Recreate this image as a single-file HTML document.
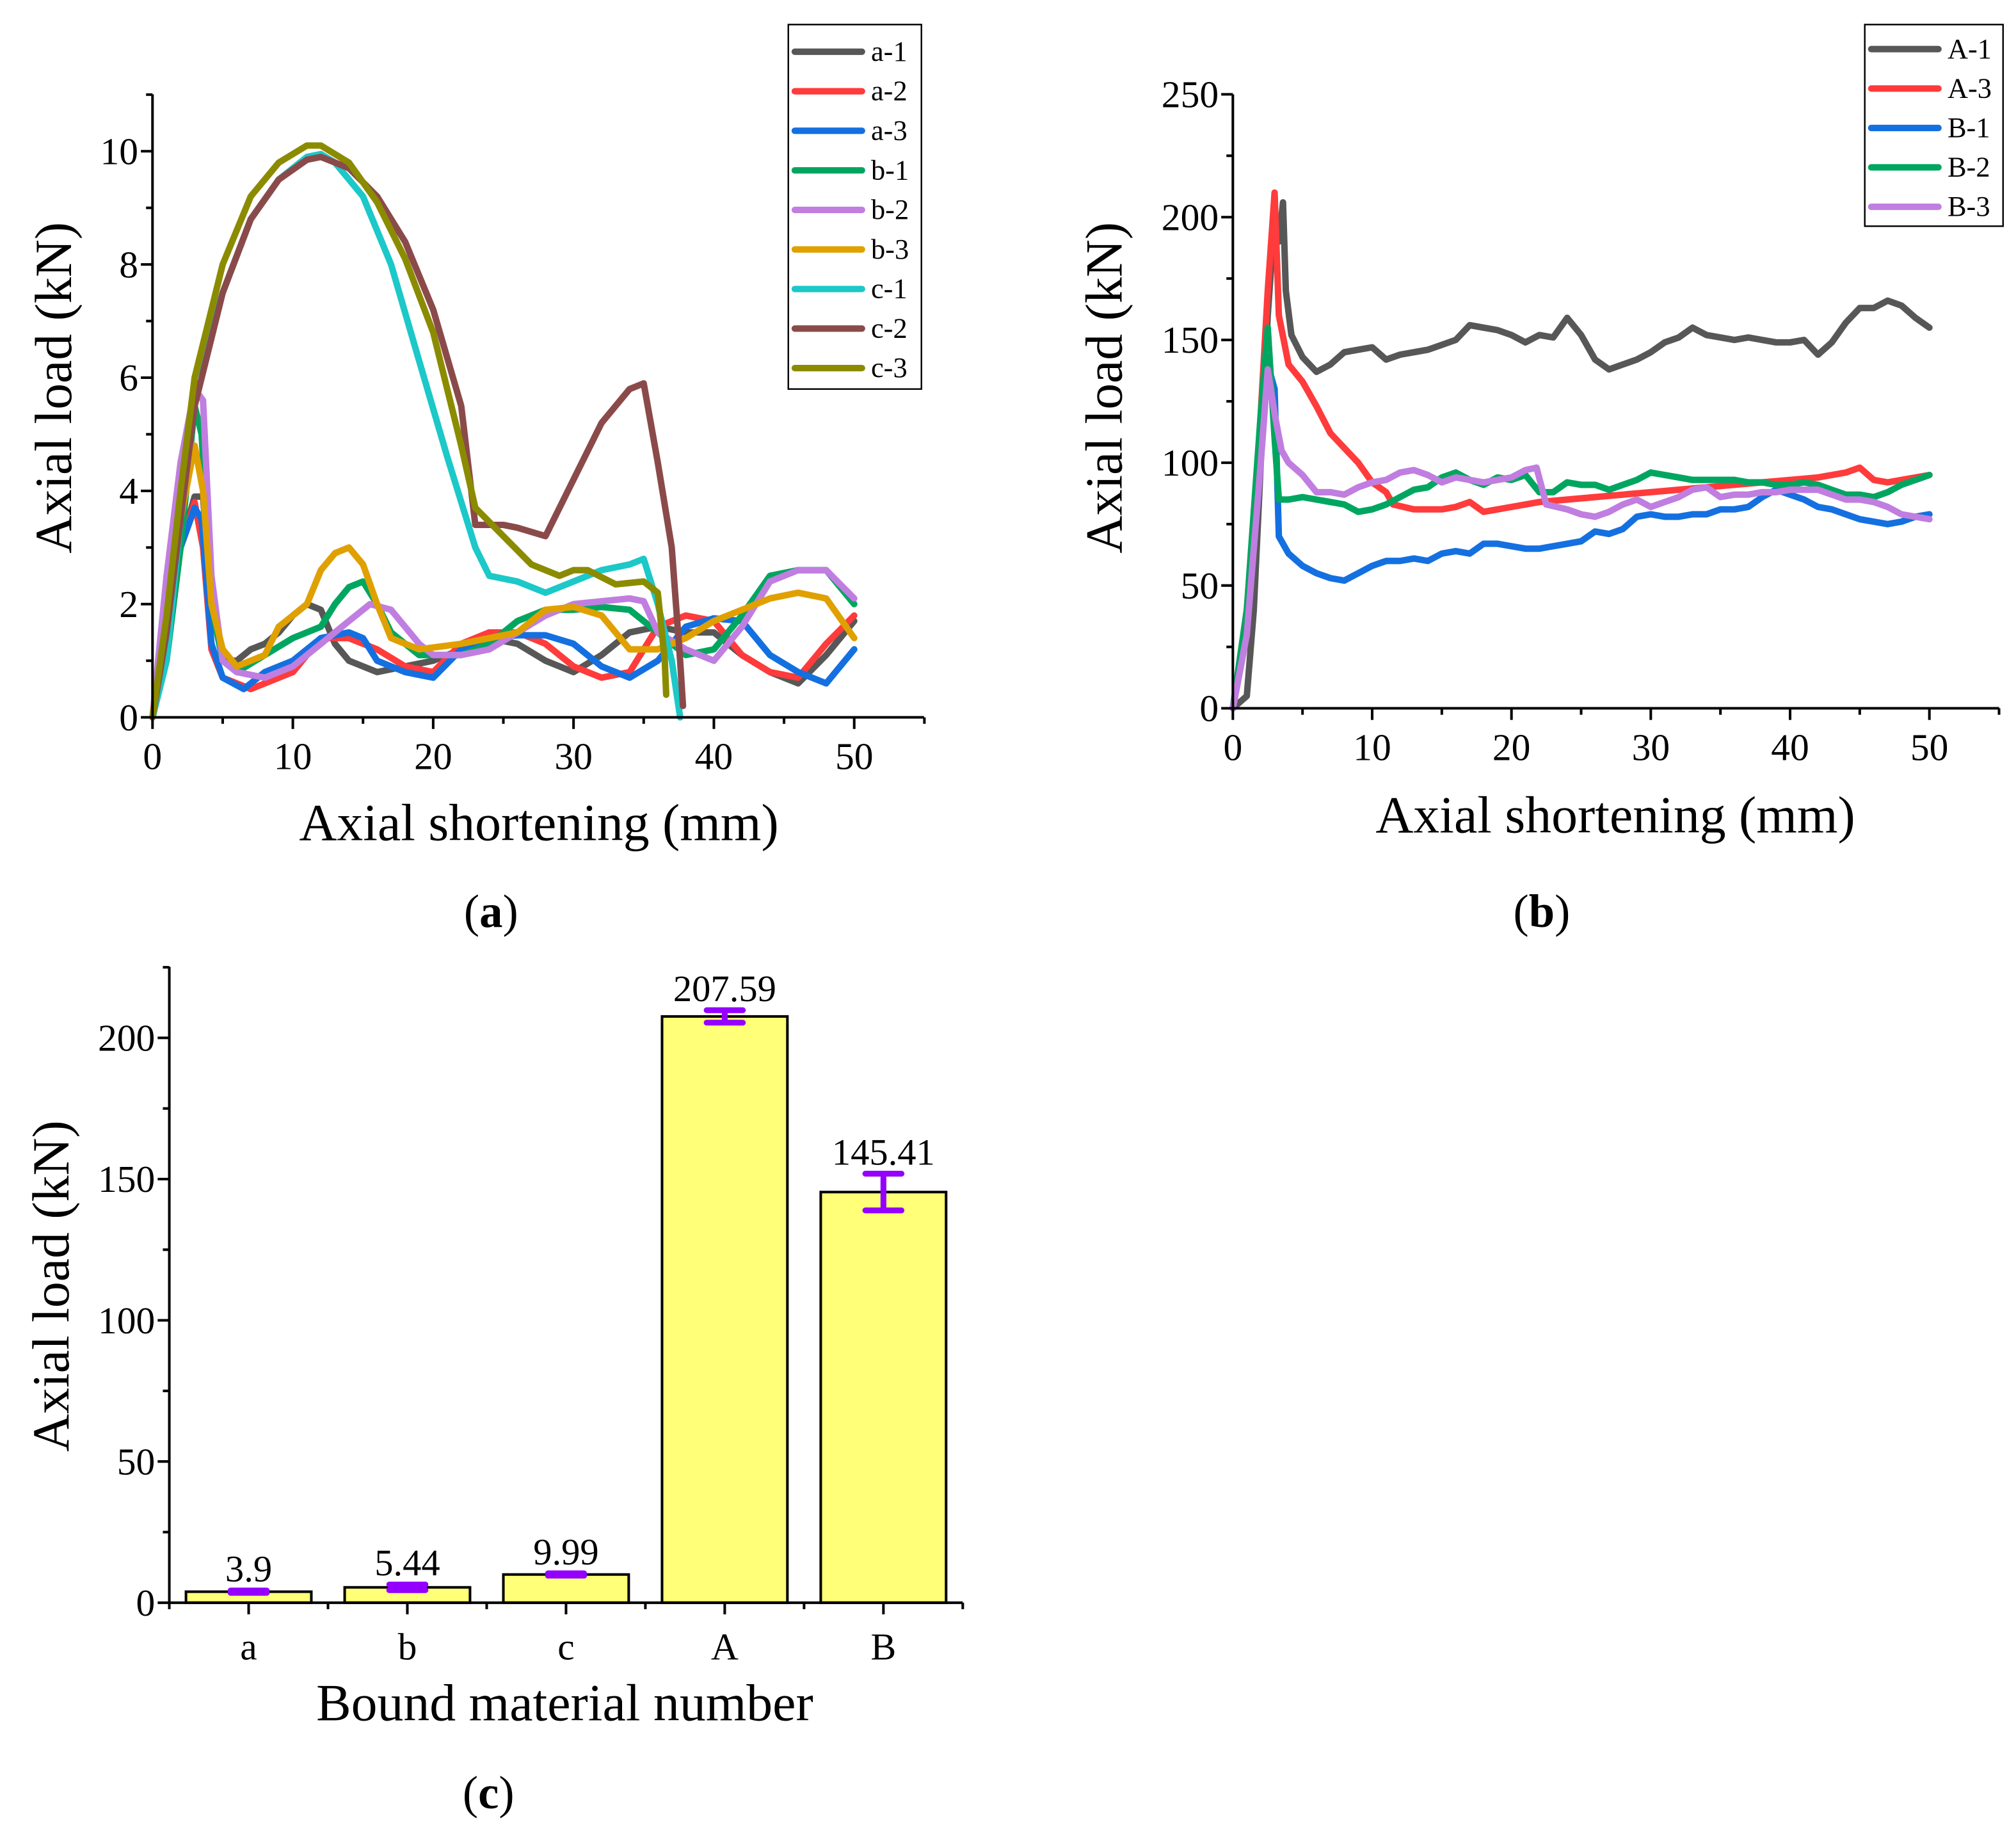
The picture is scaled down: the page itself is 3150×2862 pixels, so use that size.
<!DOCTYPE html>
<html><head><meta charset="utf-8">
<style>
html,body{margin:0;padding:0;background:#fff;}
svg{display:block;font-family:"Liberation Serif",serif;}
</style></head>
<body>
<svg id="fig" width="3150" height="2862" viewBox="0 0 1560 1417.4" xmlns="http://www.w3.org/2000/svg">
<rect width="1560" height="1417.4" fill="#fff"/>
<g id="pa"></g>
<g id="pb"></g>
<g id="pc"></g>
<text x="380" y="717" text-anchor="middle" font-size="36">(<tspan font-weight="bold">a</tspan>)</text>
<text x="1193" y="717" text-anchor="middle" font-size="36">(<tspan font-weight="bold">b</tspan>)</text>
<text x="378" y="1399" text-anchor="middle" font-size="36">(<tspan font-weight="bold">c</tspan>)</text>
</svg>
<script>
// ---------- Chart A data ----------
const aNames = ["a-1","a-2","a-3","b-1","b-2","b-3","c-1","c-2","c-3"];
const aColors = ["#575757","#ff3b3b","#1470e0","#00a660","#c07ee0","#e0a000","#1cc8c8","#8b4a4a","#8b8b00"];
const a1x=[0,1,2,3,3.6,4.2,5,6,7,8,9,10,11,12,13,14,15,16,18,20,22,24,26,28,30,32,34,36,38,40,42,44,46,48,50];
const a1y=[0,1.5,3,3.9,3.9,2,1,1,1.2,1.3,1.5,1.8,2,1.9,1.3,1,0.9,0.8,0.9,1,1.2,1.4,1.3,1,0.8,1.1,1.5,1.6,1.5,1.5,1.1,0.8,0.6,1.1,1.7];
const a2x=[0,2,3,3.6,4.2,5,7,10,12,14,16,18,20,22,24,26,28,30,32,34,36,38,40,42,44,46,48,50];
const a2y=[0,3,3.8,3,1.2,0.7,0.5,0.8,1.4,1.4,1.2,0.9,0.8,1.3,1.5,1.5,1.3,0.9,0.7,0.8,1.6,1.8,1.7,1.1,0.8,0.7,1.3,1.8];
const a3x=[0,2,3,3.5,4.2,5,6.5,8,10,12,14,15,16,18,20,22,24,26,28,30,32,34,36,38,40,42,44,46,48,50];
const a3y=[0,3,3.7,3.5,1.3,0.7,0.5,0.8,1,1.4,1.5,1.4,1,0.8,0.7,1.2,1.4,1.45,1.45,1.3,0.9,0.7,1,1.6,1.75,1.7,1.1,0.8,0.6,1.2];
const b1x=[0,1,2,3,3.5,4.2,5,6,8,10,12,13,14,15,16,17,19,22,24,26,28,30,32,34,36,38,40,42,44,46,48,50];
const b1y=[0,1,3,5.5,5,2,1,0.8,1.1,1.4,1.6,2,2.3,2.4,2,1.5,1.1,1.1,1.3,1.7,1.9,1.9,1.95,1.9,1.5,1.1,1.2,1.8,2.5,2.6,2.6,2];
const b2x=[0,1,2,3,3.6,4.2,5,6,8,10,12,14,15.5,17,19,20,22,24,26,28,30,32,34,35,36,38,40,42,44,46,48,50];
const b2y=[0,2.5,4.5,5.8,5.6,2.5,1,0.8,0.7,0.9,1.3,1.7,2,1.9,1.3,1.1,1.1,1.2,1.5,1.8,2,2.05,2.1,2.05,1.5,1.2,1,1.6,2.4,2.6,2.6,2.1];
const b3x=[0,1,2,3,3.6,4.2,5,6,8,9,10,11,12,13,14,15,16,17,19,22,24,26,28,30,32,34,36,38,40,42,44,46,48,50];
const b3y=[0,1.5,3.5,4.8,4,2,1.2,0.9,1.1,1.6,1.8,2,2.6,2.9,3,2.7,2,1.4,1.2,1.3,1.4,1.5,1.9,1.95,1.8,1.2,1.2,1.4,1.7,1.9,2.1,2.2,2.1,1.4];
const c1x=[0,1,2,3,5,7,9,11,12,13,15,17,19,21,23,24,26,28,30,32,34,35,36,37,37.6];
const c1y=[0,1,3.5,6,7.5,8.8,9.5,9.9,9.95,9.8,9.2,8,6.3,4.6,3,2.5,2.4,2.2,2.4,2.6,2.7,2.8,2,1,0];
const c2x=[0,1,2,3,5,7,9,11,12,14,16,18,20,22,23,25,26,28,30,32,34,35,36,37,37.6,37.8];
const c2y=[0,1.5,3.5,5.5,7.5,8.8,9.5,9.85,9.9,9.7,9.2,8.4,7.2,5.5,3.4,3.4,3.35,3.2,4.2,5.2,5.8,5.9,4.5,3,1,0.2];
const c3x=[0,1,2,3,5,7,9,11,12,14,16,18,20,22,23,25,27,29,30,31,33,35,36,36.5,36.6];
const c3y=[0,1.8,4,6,8,9.2,9.8,10.1,10.1,9.8,9.1,8.1,6.8,4.8,3.7,3.2,2.7,2.5,2.6,2.6,2.35,2.4,2.2,1,0.4];
const aXs=[a1x,a2x,a3x,b1x,b2x,b3x,c1x,c2x,c3x];
const aYs=[a1y,a2y,a3y,b1y,b2y,b3y,c1y,c2y,c3y];
const aXTicks=[0,10,20,30,40,50];
const aYTicks=[0,2,4,6,8,10];

// ---------- Chart B data ----------
const bNames=["A-1","A-3","B-1","B-2","B-3"];
const bColors=["#575757","#ff3b3b","#1470e0","#00a660","#c07ee0"];
const A1x=[0,1,1.5,2,2.5,3,3.3,3.6,3.8,4.2,5,6,7,8,9,10,11,12,13,14,15,16,17,18,19,20,21,22,23,24,25,26,27,28,29,30,31,32,33,34,35,36,37,38,39,40,41,42,43,44,45,46,47,48,49,50];
const A1y=[0,5,40,100,160,200,190,206,170,152,143,137,140,145,146,147,142,144,145,146,148,150,156,155,154,152,149,152,151,159,152,142,138,140,142,145,149,151,155,152,151,150,151,150,149,149,150,144,149,157,163,163,166,164,159,155];
const A3x=[0,1,2,2.5,3,3.3,4,5,6,7,8,9,10,11,11.5,13,15,16,17,18,20,22,24,26,28,30,32,34,36,38,40,42,44,45,46,47,48,50];
const A3y=[0,30,120,170,210,160,140,133,123,112,106,100,92,88,83,81,81,82,84,80,82,84,85,86,87,88,89,90,91,92,93,94,96,98,93,92,93,95];
const B1x=[0,1,2,2.5,3,3.3,4,5,6,7,8,9,10,11,12,13,14,15,16,17,18,19,20,21,22,23,24,25,26,27,28,29,30,31,32,33,34,35,36,37,38,39,40,41,42,43,44,45,46,47,48,49,50];
const B1y=[0,40,110,140,130,70,63,58,55,53,52,55,58,60,60,61,60,63,64,63,67,67,66,65,65,66,67,68,72,71,73,78,79,78,78,79,79,81,81,82,86,89,87,85,82,81,79,77,76,75,76,78,79];
const B2x=[0,1,2,2.5,3,3.3,4,5,6,7,8,9,10,11,12,13,14,15,16,17,18,19,20,21,22,23,24,25,26,27,28,29,30,31,32,33,34,35,36,37,38,39,40,41,42,43,44,45,46,47,48,49,50];
const B2y=[0,40,120,155,110,85,85,86,85,84,83,80,81,83,86,89,90,94,96,93,91,94,93,95,88,88,92,91,91,89,91,93,96,95,94,93,93,93,93,92,92,91,91,92,91,89,87,87,86,88,91,93,95];
const B3x=[0,1,2,2.5,3,3.5,4,5,6,7,8,9,10,11,12,13,14,15,16,17,18,19,20,21,21.8,22.5,24,25,26,27,28,29,30,31,32,33,34,35,36,37,38,39,40,41,42,43,44,45,46,47,48,49,50];
const B3y=[0,30,100,138,120,105,100,95,88,88,87,90,92,93,96,97,95,92,94,93,92,93,94,97,98,83,81,79,78,80,83,85,82,84,86,89,90,86,87,87,88,88,89,89,89,87,85,85,84,82,79,78,77];
const bXs=[A1x,A3x,B1x,B2x,B3x];
const bYs=[A1y,A3y,B1y,B2y,B3y];
const bXTicks=[0,10,20,30,40,50];
const bYTicks=[0,50,100,150,200,250];

// ---------- Chart C data ----------
const cCats=["a","b","c","A","B"];
const cVals=[3.9,5.44,9.99,207.59,145.41];
const cErrs=[0.4,1.0,0.4,2.2,6.5];
const cLabels=["3.9","5.44","9.99","207.59","145.41"];
const cYTicks=[0,50,100,150,200];

const NS="http://www.w3.org/2000/svg";
const TICK=29.5, TITLE=40.5;
function mk(parent,tag,attrs,text){
  const e=document.createElementNS(NS,tag);
  for(const k in attrs) e.setAttribute(k,attrs[k]);
  if(text!==undefined) e.textContent=text;
  parent.appendChild(e); return e;
}

function lineChart(g,o){
  const sx=v=>o.x0+(v-o.xmin)/(o.xmax-o.xmin)*(o.x1-o.x0);
  const sy=v=>o.y0-(v-o.ymin)/(o.ymax-o.ymin)*(o.y0-o.y1);
  for(let i=0;i<o.xs.length;i++){
    let d="";
    for(let j=0;j<o.xs[i].length;j++) d+=(j?"L":"M")+sx(o.xs[i][j]).toFixed(1)+","+sy(o.ys[i][j]).toFixed(1);
    const p=mk(g,"path",{d:d,fill:"none",stroke:o.colors[i],"stroke-width":5,"stroke-linejoin":"round","stroke-linecap":"round"});
    
    
  }
  const ax=mk(g,"path",{d:`M${o.x0},${o.yTop}V${o.y0}H${o.xEnd}`,fill:"none",stroke:"#000","stroke-width":2});
  
  
  for(let v=o.xmin;v<=o.xAxisMax+1e-9;v+=o.xMinor){
    const major=Math.abs(v/o.xMajor-Math.round(v/o.xMajor))<1e-6;
    mk(g,"line",{x1:sx(v),x2:sx(v),y1:o.y0,y2:o.y0+(major?9:5),stroke:"#000","stroke-width":2});
  }
  for(const v of o.xTicks){
    const t=mk(g,"text",{x:sx(v),y:o.y0+40,"text-anchor":"middle","font-size":TICK},String(v));
    
    
  }
  for(let v=o.ymin;v<=o.yAxisMax+1e-9;v+=o.yMinor){
    const major=Math.abs(v/o.yMajor-Math.round(v/o.yMajor))<1e-6;
    mk(g,"line",{x1:o.x0,x2:o.x0-(major?9:5),y1:sy(v),y2:sy(v),stroke:"#000","stroke-width":2});
  }
  for(const v of o.yTicks){
    const t=mk(g,"text",{x:o.x0-11,y:sy(v)+10,"text-anchor":"end","font-size":TICK},String(v));
    
    
  }
  const xt=mk(g,"text",{x:o.xtX,y:o.xtY,"text-anchor":"middle","font-size":TITLE},"Axial shortening (mm)");
  
  
  const yt=mk(g,"text",{x:0,y:0,"text-anchor":"middle","font-size":TITLE,transform:`translate(${o.ytX},${o.ytY}) rotate(-90)`},"Axial load (kN)");
  
  
  const lg=mk(g,"g",{});
  
  
  mk(lg,"rect",{x:o.lx,y:o.ly,width:o.lw,height:o.lh,fill:"#fff",stroke:"#000","stroke-width":1.2});
  for(let i=0;i<o.names.length;i++){
    const yy=o.ly+o.lfirst+i*o.lstep;
    const e=mk(lg,"g",{});
    
    
    mk(e,"line",{x1:o.lx+5,x2:o.lx+57,y1:yy,y2:yy,stroke:o.colors[i],"stroke-width":5,"stroke-linecap":"round"});
    mk(e,"text",{x:o.lx+64,y:yy+7,"font-size":22},o.names[i]);
  }
}

lineChart(document.getElementById("pa"),{
  x0:118,x1:661,xmin:0,xmax:50,xAxisMax:55,xEnd:715,y0:555,y1:117,ymin:0,ymax:10,yAxisMax:11,yTop:73,
  xMajor:10,xMinor:5,yMajor:2,yMinor:1,xTicks:aXTicks,yTicks:aYTicks,
  xs:aXs,ys:aYs,colors:aColors,names:aNames,
  xtX:417,xtY:650,ytX:55,ytY:300,
  lx:610,ly:19,lw:103,lh:282,lfirst:21,lstep:30.6
});
lineChart(document.getElementById("pb"),{
  x0:954,x1:1493,xmin:0,xmax:50,xAxisMax:55,xEnd:1547,y0:548,y1:73,ymin:0,ymax:250,yAxisMax:250,yTop:73,
  xMajor:10,xMinor:5,yMajor:50,yMinor:25,xTicks:bXTicks,yTicks:bYTicks,
  xs:bXs,ys:bYs,colors:bColors,names:bNames,
  xtX:1250,xtY:644,ytX:868,ytY:300,
  lx:1443,ly:19,lw:107,lh:156,lfirst:19,lstep:30.5
});

(function(){
  const g=document.getElementById("pc");
  const x0=131,xEnd=745,y0=1240,yTop=748;
  const sy=v=>y0-v/200*(1240-803);
  const band=(xEnd-x0)/cCats.length;
  const cx=i=>x0+band*(i+0.5);
  const bw=97;
  for(let i=0;i<cCats.length;i++){
    const b=mk(g,"rect",{x:cx(i)-bw/2,y:sy(cVals[i]),width:bw,height:y0-sy(cVals[i]),fill:"#ffff78",stroke:"#000","stroke-width":2});
    
    
    const top=sy(cVals[i]+cErrs[i]),bot=sy(cVals[i]-cErrs[i]);
    const e=mk(g,"path",{d:`M${cx(i)-14},${top}H${cx(i)+14}M${cx(i)},${top}V${bot}M${cx(i)-14},${bot}H${cx(i)+14}`,stroke:"#9400ff","stroke-width":4.5,"stroke-linecap":"round",fill:"none"});
    
    
    const l=mk(g,"text",{x:cx(i),y:top-7,"text-anchor":"middle","font-size":29},cLabels[i]);
    
    
    const c=mk(g,"text",{x:cx(i),y:y0+44,"text-anchor":"middle","font-size":TICK},cCats[i]);
    
    
    mk(g,"line",{x1:cx(i),x2:cx(i),y1:y0,y2:y0+9,stroke:"#000","stroke-width":2});
    mk(g,"line",{x1:x0+band*i,x2:x0+band*i,y1:y0,y2:y0+5,stroke:"#000","stroke-width":2});
  }
  mk(g,"line",{x1:xEnd,x2:xEnd,y1:y0,y2:y0+5,stroke:"#000","stroke-width":2});
  const ax=mk(g,"path",{d:`M${x0},${yTop}V${y0}H${xEnd}`,fill:"none",stroke:"#000","stroke-width":2});
  
  
  for(let v=0;v<=225;v+=25){
    const major=v%50===0;
    mk(g,"line",{x1:x0,x2:x0-(major?9:5),y1:sy(v),y2:sy(v),stroke:"#000","stroke-width":2});
  }
  for(const v of cYTicks){
    const t=mk(g,"text",{x:x0-11,y:sy(v)+10,"text-anchor":"end","font-size":TICK},String(v));
    
    
  }
  const xt=mk(g,"text",{x:437,y:1331,"text-anchor":"middle","font-size":TITLE},"Bound material number");
  
  
  const yt=mk(g,"text",{x:0,y:0,"text-anchor":"middle","font-size":TITLE,transform:"translate(53,995) rotate(-90)"},"Axial load (kN)");
  
  
})();
</script>
</body></html>
